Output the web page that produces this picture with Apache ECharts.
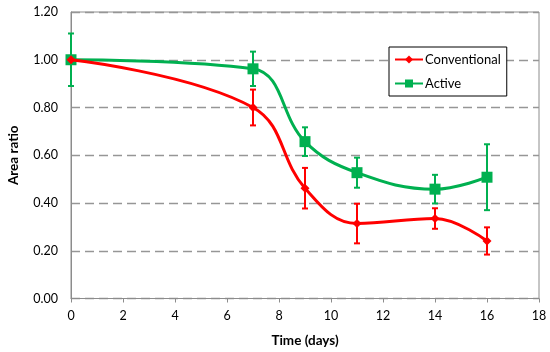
<!DOCTYPE html>
<html><head><meta charset="utf-8">
<script src="https://cdn.jsdelivr.net/npm/echarts@6/dist/echarts.min.js"></script>
<style>html,body{margin:0;padding:0;background:#fff}#c{width:550px;height:352px}</style>
</head><body><div id="c"></div>
<script>
const days = [0, 7, 9, 11, 14, 16];
const conventional = [1.00, 0.80, 0.462, 0.314, 0.335, 0.241];
const conventionalErr = [0.00, 0.075, 0.085, 0.083, 0.043, 0.057];
const active = [1.00, 0.962, 0.657, 0.527, 0.458, 0.508];
const activeErr = [0.11, 0.072, 0.06, 0.063, 0.06, 0.138];
const xTicks = [0, 2, 4, 6, 8, 10, 12, 14, 16, 18];
const yTicks = [0.00, 0.20, 0.40, 0.60, 0.80, 1.00, 1.20];

const RED = '#ff0000', GREEN = '#00b050';
const FONT = 'Lato, "Open Sans", sans-serif';

function pairs(vals){ return days.map((d,i)=>[d, vals[i]]); }
function errData(vals, errs){ return days.map((d,i)=>[d, vals[i]-errs[i], vals[i]+errs[i]]); }
function errSeries(name, vals, errs, color){
  return {
    type:'custom', name: name+' err', z: 3, silent:true,
    data: errData(vals, errs),
    encode:{x:0, y:[1,2]},
    renderItem(params, api){
      const x = api.value(0);
      if (api.value(2) - api.value(1) <= 0) return null;
      const lo = api.coord([x, api.value(1)]);
      const hi = api.coord([x, api.value(2)]);
      const w = 3;
      const st = {stroke: color, lineWidth: 2};
      return {type:'group', children:[
        {type:'line', shape:{x1:lo[0], y1:lo[1], x2:hi[0], y2:hi[1]}, style:st},
        {type:'line', shape:{x1:lo[0]-w, y1:lo[1], x2:lo[0]+w, y2:lo[1]}, style:st},
        {type:'line', shape:{x1:hi[0]-w, y1:hi[1], x2:hi[0]+w, y2:hi[1]}, style:st}
      ]};
    }
  };
}

const chart = echarts.init(document.getElementById('c'));
chart.setOption({
  animation:false,
  backgroundColor:'#fff',
  textStyle:{fontFamily:FONT},
  grid:{left:71, right:11, top:12, bottom:53.5, containLabel:false, outerBoundsMode:'none',
        show:true, borderColor:'#8c8c8c', borderWidth:1},
  legend:{
    left: 389, top: 47, orient:'vertical', itemGap:11,
    backgroundColor:'#fff', borderColor:'#000', borderWidth:1, padding:[6,6,6,5],
    itemWidth:28, itemHeight:10,
    textStyle:{fontFamily:FONT, fontSize:13, color:'#000', padding:[0,0,0,-3]},
    data:[{name:'Conventional'},{name:'Active'}]
  },
  xAxis:{
    type:'value', min:0, max:18, interval:2,
    axisLine:{show:true, lineStyle:{color:'#8c8c8c', width:1}},
    axisTick:{show:true, length:4, lineStyle:{color:'#8c8c8c'}},
    axisLabel:{color:'#000', fontSize:12.5, fontFamily:FONT, margin:11,
      formatter:v=> xTicks.includes(v) ? String(v) : ''},
    splitLine:{show:false},
    name:'Time (days)', nameLocation:'middle', nameGap:35,
    nameTextStyle:{fontWeight:'bold', fontSize:13.5, color:'#000', fontFamily:FONT}
  },
  yAxis:{
    type:'value', min:0, max:1.2, interval:0.2,
    axisLine:{show:true, lineStyle:{color:'#8c8c8c', width:1}},
    axisTick:{show:false},
    axisLabel:{color:'#000', fontSize:12.5, fontFamily:FONT, margin:13,
      formatter:v=> yTicks.find(t=>Math.abs(t-v)<1e-6).toFixed(2)},
    splitLine:{show:true, lineStyle:{color:'#969696', width:1.3, type:[9,5]}},
    name:'Area ratio', nameLocation:'middle', nameGap:50, nameRotate:90,
    nameTextStyle:{fontWeight:'bold', fontSize:13.5, color:'#000', fontFamily:FONT}
  },
  series:[
    errSeries('Active', active, activeErr, GREEN),
    errSeries('Conventional', conventional, conventionalErr, RED),
    {name:'Active', type:'line', data:pairs(active), smooth:0.4, z:4,
     symbol:'rect', symbolSize:11, itemStyle:{color:GREEN}, lineStyle:{color:GREEN, width:3}},
    {name:'Conventional', type:'line', data:pairs(conventional), smooth:0.4, z:5,
     symbol:'diamond', symbolSize:9, itemStyle:{color:RED}, lineStyle:{color:RED, width:3}}
  ]
});
</script></body></html>
